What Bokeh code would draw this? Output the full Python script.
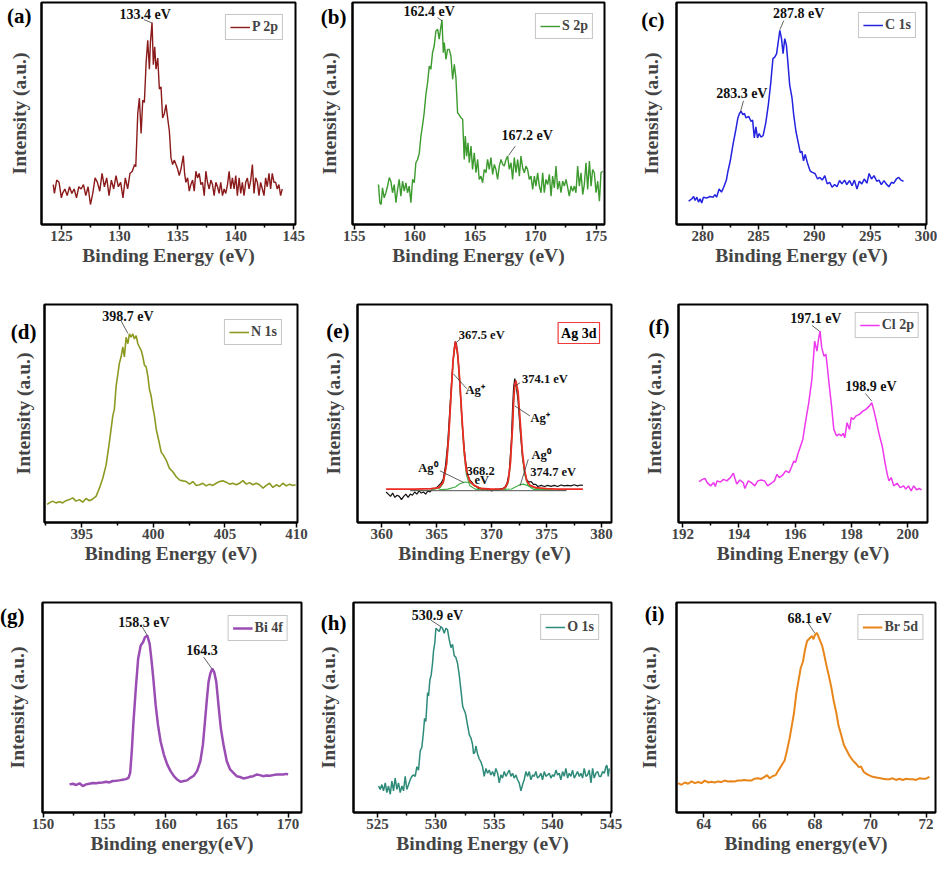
from bokeh.plotting import figure
from bokeh.models import Range1d, FixedTicker, Label
from bokeh.layouts import column, row
from bokeh.embed import file_html
from bokeh.resources import INLINE

SERIF = "Liberation Serif"

# ---------------- data (binding energy in eV, intensity in a.u.) ----------------
p2p_be = [124.3,124.4,124.6,124.8,125.0,125.1,125.3,125.5,125.7,125.9,126.1,126.3,126.5,126.7,126.9,127.1,127.3,127.5,127.7,127.9,
          128.1,128.3,128.5,128.7,128.9,129.1,129.3,129.5,129.7,129.9,130.1,130.3,130.5,130.7,130.9,131.1,131.3,131.4,131.57,131.71,
          131.86,132.0,132.14,132.29,132.43,132.57,132.66,132.8,132.91,133.03,133.14,133.29,133.43,133.57,133.71,133.86,134.0,134.14,134.29,134.43,
          134.57,134.71,134.86,135.0,135.14,135.29,135.49,135.6,135.71,135.86,136.0,136.14,136.29,136.43,136.57,136.71,136.86,137.0,137.14,137.29,
          137.43,137.57,137.71,137.86,138.0,138.14,138.29,138.43,138.57,138.71,138.86,139.0,139.14,139.29,139.43,139.57,139.71,139.86,140.0,140.14,
          140.29,140.43,140.57,140.71,140.86,141.0,141.14,141.29,141.43,141.57,141.71,141.86,142.0,142.14,142.29,142.43,142.57,142.71,142.86,143.0,
          143.14,143.29,143.43,143.57,143.71,143.86,144.0]
p2p_int = [18,14,20,19,12,14,16,13,17,14,16,12,17,16,18,13,17,9,14,21,
           19,15,23,17,21,13,20,16,22,17,19,12,21,16,23,24,27,26,50,57,
           41,56,55,73,83,70,82,91,72,80,70,75,61,62,48,50,54,48,42,30,
           27,29,27,25,22,25,31,23,19,21,15,18,20,15,24,21,23,18,19,13,
           24,19,16,20,18,13,19,17,14,19,13,16,14,18,24,16,21,16,22,13,
           21,14,19,13,19,21,16,20,27,14,21,19,13,19,16,13,21,17,23,16,
           23,19,19,16,18,13,16]

s2p_be = [157.01,157.12,157.23,157.34,157.48,157.62,157.76,157.90,158.03,158.17,158.31,158.45,158.59,158.72,158.86,159.0,159.14,159.28,159.41,159.55,
          159.69,159.83,159.97,160.10,160.24,160.38,160.52,160.66,160.79,160.93,161.07,161.21,161.34,161.48,161.62,161.76,161.90,162.03,162.12,162.26,
          162.37,162.45,162.59,162.72,162.86,163.0,163.14,163.28,163.41,163.55,163.83,163.97,164.10,164.19,164.30,164.41,164.52,164.66,164.79,164.93,
          165.07,165.21,165.34,165.48,165.62,165.76,165.90,166.03,166.17,166.31,166.45,166.59,166.72,166.86,167.0,167.14,167.28,167.41,167.55,167.69,
          167.83,167.97,168.10,168.24,168.38,168.52,168.66,168.79,168.93,169.07,169.21,169.34,169.48,169.62,169.76,169.90,170.03,170.17,170.31,170.45,
          170.59,170.72,170.86,171.0,171.14,171.28,171.41,171.55,171.69,171.83,171.97,172.10,172.24,172.38,172.52,172.66,172.79,172.93,173.07,173.21,
          173.34,173.48,173.62,173.76,173.90,174.03,174.17,174.31,174.45,174.59,174.72,174.86,175.0,175.14,175.28,175.41,175.55]
s2p_int = [18.0,9.8,9.0,16.5,12.0,14.3,17.3,21.1,19.5,14.3,18.0,9.8,15.8,20.3,12.8,19.5,15.0,18.8,14.3,17.3,
           9.8,20.3,18.8,27.8,29.3,32.0,39.8,45.0,50.4,58.6,63.9,71.4,69.9,77.4,80.5,87.2,88.0,83.5,87.2,92.2,
           77.4,82.0,74.4,78.9,78.9,75.9,65.4,72.2,66.2,50.4,48.1,47.4,29.3,39.8,30.8,36.8,27.8,35.3,24.8,32.3,
           23.3,29.3,20.3,21.8,18.8,24.8,23.3,29.3,24.8,30.1,22.6,27.1,24.8,20.3,26.3,29.3,27.1,26.3,29.3,30.8,
           24.8,27.8,20.3,30.1,23.3,29.3,21.8,30.8,25.6,23.3,26.3,24.8,20.3,21.8,15.8,21.8,17.3,23.3,17.3,14.3,
           23.3,14.3,20.3,18.0,22.6,12.8,21.8,16.5,26.3,15.8,19.5,14.3,19.5,17.3,20.3,16.5,12.8,17.3,15.0,17.3,
           14.3,26.3,17.3,23.3,13.5,18.0,27.8,15.8,28.6,17.3,24.8,23.3,14.3,19.5,10.5,23.3,24.0]

c1s_be = [278.74,279.03,279.18,279.32,279.47,279.62,279.76,279.91,280.06,280.35,280.65,280.94,281.09,281.24,281.47,281.68,281.88,282.12,282.26,282.47,
          282.71,282.94,283.15,283.29,283.44,283.59,283.74,283.88,284.12,284.32,284.47,284.62,284.76,284.91,285.06,285.21,285.41,285.65,285.88,286.09,
          286.29,286.47,286.62,286.76,286.91,287.06,287.2,287.35,287.5,287.65,287.79,288.0,288.15,288.35,288.53,288.74,288.88,289.03,289.18,289.41,
          289.62,289.82,290.06,290.29,290.5,290.71,290.94,291.15,291.38,291.59,291.82,292.03,292.26,292.47,292.71,292.91,293.15,293.38,293.59,293.82,
          294.03,294.26,294.47,294.71,294.91,295.12,295.35,295.59,295.79,296.0,296.24,296.44,296.68,296.91,297.12,297.35,297.56,297.76,297.99]
c1s_int = [10.5,11.6,12.6,10.8,12.3,10.1,11.6,9.7,12.3,11.9,12.6,12.3,13.5,12.3,16,14.6,16.8,20,24,28.7,
           36,42,48,50,51,49.5,50,48,48.7,46.5,47,39,44,39,41,39.4,40,45.8,54,63.6,
           74.7,75.5,77,82,87.4,83.7,77,83.7,80.7,71.8,62.9,57,49.5,42,37.6,32.4,33,28.7,31.6,27.2,
           24.2,23.5,23,20.5,21.2,20,22,18.3,19,16.8,18,17,19.8,18.3,20,18,19.8,17.5,20,16,
           19.5,18.3,20.5,18.6,23,20.5,22,19.5,20,18,19.8,18.3,17,19,18.6,20.5,21.2,20,19.5]

n1s_be = [392.58,392.74,392.97,393.2,393.44,393.67,393.9,394.14,394.37,394.6,394.84,395.07,395.3,395.54,395.77,396.0,396.24,396.47,396.7,396.93,
          397.17,397.28,397.4,397.63,397.75,397.87,397.98,398.1,398.22,398.33,398.45,398.57,398.68,398.8,398.92,399.03,399.15,399.27,399.38,399.5,
          399.62,399.73,399.85,399.97,400.08,400.2,400.38,400.55,400.71,400.9,401.13,401.36,401.6,401.83,402.06,402.3,402.53,402.76,403.0,403.23,
          403.46,403.69,403.93,404.16,404.39,404.63,404.86,405.09,405.33,405.56,405.79,406.02,406.26,406.49,406.72,406.96,407.19,407.42,407.66,407.89,
          408.12,408.35,408.59,408.82,409.05,409.29,409.52,409.75,409.94]
n1s_int = [8.3,9,9.8,9,9.5,9,10,10.5,11.3,9.8,10.5,9.3,11,10,10.8,12,15.8,20.3,26.3,36.8,
           48.9,52,62.4,73,76,80.5,76,85,82,86.5,85,86.5,84.2,85.7,82,80.5,79,76,72.2,71.4,
           67,61,58,52.6,48.9,42.9,37.6,32.3,30.8,28.6,24.8,23.3,21,19.5,19.1,18.8,17.6,18.8,17,17.3,
           18,16.8,17.6,17,18,18.8,19.1,18.5,17.6,18,17.3,18,19.2,17.6,18.3,17.3,18,17.3,15.8,17,
           18,16.1,17.3,16.5,18,16.8,17.6,17,17.3]

# Ag 3d: raw data, fitted envelope, components, background
ag_be = [360.4,360.6,360.8,361.0,361.2,361.4,361.6,361.8,362.0,362.2,362.4,362.6,362.8,363.0,363.2,363.4,363.6,363.8,364.0,364.2,
         364.4,364.6,364.8,365.0,365.2,365.4,365.6,365.8,366.0,366.2,366.4,366.6,366.7,366.8,367.0,367.2,367.4,367.6,367.8,368.0,
         368.2,368.4,368.6,368.8,369.0,369.2,369.4,369.6,369.8,370.0,370.2,370.4,370.6,370.8,371.0,371.2,371.4,371.6,371.8,371.9,
         372.0,372.1,372.2,372.4,372.6,372.8,373.0,373.2,373.4,373.6,373.8,374.0,374.2,374.5,374.8,375.1,375.4,375.7,376.0,376.3,
         376.6,376.9,377.2,377.5,377.8,378.1,378.3]
ag_int = [14,13,12,13.5,11.5,12.5,12,10.5,12,13,11.5,13,12.5,14,13,14.5,13.5,14,13,14.5,
          14,15.5,15.5,16,17,18,20,26,36,52,68,80,83,82,72,56,40,29,22,19.5,
          18.5,17,16.5,15.6,15.3,15,15.5,14.8,15.2,14.5,15,15.3,15,15.6,15.5,16.2,18,23,38,52,
          62,66,64,56,42,30,23,19.5,18.5,18.8,17.5,17.5,16.5,17,16.5,17,16.6,17,16.5,17.2,
          16.8,17,16.8,17.3,16.8,17.2,17]
ag_fit_be = [360.4,363.0,364.5,365.2,365.6,365.9,366.1,366.3,366.5,366.7,366.9,367.1,367.3,367.5,367.7,368.0,368.4,369.0,370.0,371.0,
             371.3,371.5,371.7,371.9,372.0,372.1,372.2,372.4,372.6,372.8,373.0,373.2,373.5,374.0,375.0,376.0,378.3]
ag_fit_int = [15.3,15.3,15.5,16,18.5,27,40,58,75,83,78,65,48,33,24,19,17,15.6,15.3,15.4,
              16.5,19,27,44,56,63,65,60,46,32,24,19,17,16,15.5,15.3,15.3]
agp1_be = [362.6,364.5,365.3,365.6,365.9,366.1,366.3,366.5,366.7,366.9,367.1,367.3,367.5,367.7,368.0,368.5,369.5,370.5]
agp1_int = [14.8,14.9,15.8,18,26,39,57,74,82,77,63,46,31,22,17,15.3,14.9,14.8]
agp2_be = [370.5,371.2,371.5,371.7,371.9,372.0,372.1,372.2,372.4,372.6,372.8,373.0,373.3,373.8,375.0,376.8]
agp2_int = [14.8,15.2,18,26,43,55,62,64,59,45,31,22,17,15.2,14.9,14.8]
ag01_be = [365.2,366.0,366.7,367.1,367.6,368.0,368.5,369.1,369.8]
ag01_int = [15.0,15.3,16.3,17.8,18.6,18.2,16.8,15.6,15.1]
ag02_be = [370.8,371.8,372.3,372.6,372.9,373.3,373.9,374.6,375.6]
ag02_int = [15.0,15.4,16.6,17.4,17.6,16.9,15.8,15.2,15.0]
ag_bg_be = [362.6,376.8]
ag_bg_int = [14.6,14.6]

cl2p_be = [192.58,192.70,192.79,192.87,192.99,193.10,193.16,193.22,193.34,193.45,193.57,193.69,193.80,193.92,194.03,194.15,194.21,194.33,194.44,194.56,
           194.67,194.79,194.91,195.02,195.14,195.26,195.35,195.43,195.55,195.66,195.78,195.86,195.95,196.01,196.09,196.19,196.27,196.36,196.48,196.59,
           196.69,196.77,196.83,196.88,196.94,197.02,197.09,197.15,197.21,197.29,197.37,197.47,197.55,197.64,197.70,197.76,197.84,197.93,197.99,198.07,
           198.16,198.28,198.40,198.51,198.63,198.72,198.80,198.88,198.98,199.09,199.19,199.27,199.33,199.41,199.50,199.62,199.73,199.85,199.93,200.02,
           200.12,200.21,200.31,200.40,200.49]
cl2p_int = [18.8,19.8,20.2,18.3,16.8,18.3,16.5,19.1,18.6,19.8,19.1,20.6,22.6,17.6,19.5,18.3,15.6,19.1,18.3,16.8,
            19.1,19.5,19.1,16.8,17.9,19.1,22.1,20.6,21.7,23.7,22.9,25.2,28.2,27.5,31.3,35.1,38.2,45.8,55,65.6,
            83.2,78.6,84.3,87.8,80.2,76.3,77.1,70.2,62.6,53.4,42.7,39.7,40.5,39.7,40.9,38.9,45.8,42.7,48.1,47.3,
            48.9,49.6,51.1,51.9,53.4,54.9,51.1,46.6,40.5,35.1,27.5,22.1,19.1,20.6,16.8,18,16,16.8,15.3,16.8,
            14.5,16.8,15.0,15.6,15.0]

bi4f_be = [152.16,152.43,152.70,152.97,153.24,153.51,153.78,154.05,154.32,154.59,154.86,155.14,155.41,155.68,155.95,156.22,156.49,156.76,156.97,157.11,
           157.24,157.38,157.57,157.76,157.97,158.16,158.32,158.51,158.70,158.84,159.0,159.19,159.38,159.59,159.86,160.14,160.41,160.68,160.95,161.22,
           161.49,161.76,162.03,162.30,162.57,162.84,163.05,163.24,163.38,163.51,163.65,163.81,163.97,164.14,164.32,164.51,164.73,165.0,165.27,165.54,
           165.81,166.08,166.35,166.62,166.89,167.16,167.43,167.70,167.97,168.24,168.51,168.78,169.05,169.32,169.59,169.86,170.0]
bi4f_int = [13.4,13.7,13.1,13.9,12.6,13.4,13.7,14.0,13.9,14.2,14.3,14.6,14.3,15.0,15.1,15.3,15.6,15.9,16.5,18.9,
            29.1,43.3,59.1,73.2,79.5,81.1,83.5,84.3,80.3,73.2,63.8,51.2,41.7,33.9,27.6,22.8,19.7,17.3,15.7,14.6,
            15.0,15.3,16.5,17.5,19.7,24.4,32.3,44.9,54.3,62.2,66.1,68.5,66.9,62.2,51.2,40.2,32.3,24.4,20.5,18.9,
            17.3,16.9,16.2,16.5,17.0,17.3,18.1,17.8,17.3,17.6,17.5,17.8,18.1,18.1,18.1,18.4,18.1]

o1s_be = [525.09,525.23,525.37,525.51,525.66,525.80,525.94,526.09,526.23,526.37,526.51,526.66,526.80,526.94,527.09,527.23,527.37,527.51,527.66,527.80,
          527.94,528.09,528.23,528.37,528.51,528.66,528.80,528.94,529.03,529.14,529.29,529.37,529.49,529.60,529.71,529.80,529.91,530.00,530.14,530.29,
          530.43,530.57,530.71,530.86,531.00,531.14,531.29,531.43,531.57,531.71,531.86,532.00,532.14,532.29,532.37,532.49,532.57,532.71,532.86,533.00,
          533.14,533.23,533.34,533.43,533.57,533.71,533.86,534.00,534.14,534.29,534.43,534.57,534.71,534.86,535.00,535.14,535.29,535.43,535.57,535.71,
          535.86,536.00,536.14,536.29,536.43,536.57,536.71,536.86,537.00,537.14,537.29,537.43,537.57,537.71,537.86,538.00,538.14,538.29,538.43,538.57,
          538.71,538.86,539.00,539.14,539.29,539.43,539.57,539.71,539.86,540.00,540.14,540.29,540.43,540.57,540.71,540.86,541.00,541.14,541.29,541.43,
          541.57,541.71,541.86,542.00,542.14,542.29,542.43,542.57,542.71,542.86,543.00,543.14,543.29,543.43,543.57,543.71,543.86,544.00,544.14,544.29,
          544.43,544.57,544.66,544.77,544.86]
o1s_int = [12.6,11.0,13.3,10.3,14.1,9.5,12.6,8.7,14.9,10.3,16.4,11.0,14.1,9.5,12.6,10.3,17.2,11.0,13.3,15.6,
           17.2,17.9,17.2,21.8,20.2,29.4,31.0,38.7,44.8,43.3,57.1,55.5,63.2,65.5,70.9,77.0,80.8,87.7,87.0,86.2,
           88.5,87.7,85.4,87.7,87.0,82.4,78.5,80.1,74.7,73.9,70.9,65.5,58.6,50.9,49.4,47.9,46.3,41.7,37.1,35.6,
           32.5,27.9,28.7,31.7,27.9,25.6,24.1,21.8,17.2,21.0,18.7,20.2,17.9,19.5,17.2,21.0,18.7,14.1,17.9,16.4,
           19.5,17.2,18.7,20.2,17.2,18.7,16.4,17.9,15.6,14.1,10.3,13.3,15.6,19.5,17.2,19.5,15.6,17.9,17.2,19.5,
           16.4,17.2,18.7,15.6,19.5,17.2,17.9,18.7,16.4,17.9,17.2,20.2,17.9,18.7,15.6,19.5,17.2,21.0,16.4,18.7,
           17.2,20.2,16.4,17.9,19.5,17.2,18.7,16.4,21.0,17.2,17.9,20.2,14.1,21.0,16.4,18.7,19.5,17.2,17.2,19.5,
           18.7,21.8,22.5,17.2,21.0]

br5d_be = [63.08,63.2,63.32,63.44,63.56,63.68,63.8,63.92,64.04,64.16,64.28,64.4,64.51,64.63,64.75,64.87,64.99,65.11,65.23,65.35,
           65.47,65.59,65.71,65.83,65.95,66.07,66.19,66.28,66.37,66.49,66.59,66.65,66.73,66.83,66.91,66.99,67.09,67.17,67.25,67.33,
           67.41,67.49,67.57,67.65,67.72,67.78,67.84,67.9,67.95,68.01,68.07,68.12,68.19,68.26,68.34,68.41,68.49,68.59,68.67,68.77,
           68.85,68.95,69.04,69.13,69.25,69.37,69.49,69.58,69.66,69.76,69.87,69.96,70.08,70.2,70.32,70.44,70.56,70.68,70.8,70.92,
           71.04,71.16,71.28,71.4,71.52,71.64,71.76,71.88,72.0,72.12]
br5d_int = [14.0,13.2,14.3,13.7,14.8,14.0,14.5,14.0,15.2,14.3,14.6,14.3,14.8,14.5,15.2,14.8,14.9,14.8,15.2,15.2,
            15.5,15.2,15.2,16.1,16.3,16.0,17.0,17.8,16.3,17.4,17.8,19.3,20.9,23.1,24.7,29.2,35.3,41.4,47.5,56.6,
            62.7,68.8,71.8,77.9,81.7,82.5,83.3,84.0,82.5,84.8,85.5,84.0,81.7,79.5,74.9,70.3,65.8,59.7,53.6,47.5,
            41.4,36.8,32.3,30.0,26.9,24.7,23.1,21.6,21.9,19.3,18.3,17.7,17.0,16.7,16.4,16.1,15.8,15.8,16.3,15.5,
            16.1,15.5,16.1,15.8,15.8,15.5,16.3,16.1,16.1,17.0]

# tick values
ticks_a = [125, 130, 135, 140, 145];  minor_a = [127.5, 132.5, 137.5, 142.5]
ticks_b = [155, 160, 165, 170, 175];  minor_b = [157.5, 162.5, 167.5, 172.5]
ticks_c = [280, 285, 290, 295, 300];  minor_c = [282.5, 287.5, 292.5, 297.5]
ticks_d = [395, 400, 405, 410];       minor_d = [392.5, 397.5, 402.5, 407.5]
ticks_e = [360, 365, 370, 375, 380];  minor_e = [362.5, 367.5, 372.5, 377.5]
ticks_f = [192, 194, 196, 198, 200];  minor_f = [193, 195, 197, 199]
ticks_g = [150, 155, 160, 165, 170];  minor_g = [152.5, 157.5, 162.5, 167.5]
ticks_h = [525, 530, 535, 540, 545];  minor_h = [527.5, 532.5, 537.5, 542.5]
ticks_i = [64, 66, 68, 70, 72];       minor_i = [65, 67, 69, 71]


def seg(be, it):
    n = min(len(be), len(it))
    return be[:n], it[:n]


def make_panel(cfg):
    w, h, bl, br, bt, bb = cfg["geom"]
    fh = h - bt - bb
    p = figure(width=w, height=h, x_range=Range1d(*cfg["xr"]), y_range=Range1d(0, 100),
               output_backend="svg", toolbar_location=None,
               min_border_left=bl, min_border_right=br, min_border_top=bt, min_border_bottom=bb,
               background_fill_color="white", border_fill_color="white")
    p.xgrid.visible = False
    p.ygrid.visible = False
    p.outline_line_color = "black"
    p.outline_line_width = 2
    p.outline_line_alpha = 1

    xa = p.xaxis[0]
    xa.ticker = FixedTicker(ticks=cfg["ticks"], minor_ticks=cfg["minor"])
    xa.axis_label = cfg["xlabel"]
    xa.axis_label_text_font = SERIF
    xa.axis_label_text_font_style = "bold"
    xa.axis_label_text_font_size = "19.5px"
    xa.axis_label_standoff = cfg.get("xls", 1)
    xa.major_label_text_font = SERIF
    xa.major_label_text_font_style = "bold"
    xa.major_label_text_font_size = "15px"
    xa.major_label_standoff = 1
    xa.axis_line_width = 2
    xa.major_tick_line_width = 1.5
    xa.minor_tick_line_width = 1.5
    xa.major_tick_out = 5
    xa.major_tick_in = 0
    xa.minor_tick_out = 3
    xa.minor_tick_in = 0

    # left axis: carries the panel letter as its single tick label and the intensity title
    letter_y = 100.0 * (1.0 - cfg["letter_c"] / fh)
    ya = p.yaxis[0]
    ya.ticker = FixedTicker(ticks=[letter_y], minor_ticks=[])
    ya.major_label_overrides = {letter_y: cfg["letter"]}
    ya.major_label_text_font = SERIF
    ya.major_label_text_font_style = "bold"
    ya.major_label_text_font_size = "21px"
    ya.major_label_text_color = "black"
    ya.major_label_standoff = cfg["letter_gap"]
    ya.major_tick_out = 0
    ya.major_tick_in = 0
    ya.major_tick_line_color = None
    ya.axis_label = "Intensity (a.u.)"
    ya.axis_label_text_font = SERIF
    ya.axis_label_text_font_style = "bold"
    ya.axis_label_text_font_size = "19.5px"
    ya.axis_label_standoff = cfg["yls"]
    ya.axis_line_width = 2

    for s in cfg["series"]:
        be, it = seg(s["x"], s["y"])
        kw = dict(line_color=s["color"], line_width=s["width"])
        if s.get("legend"):
            kw["legend_label"] = s["legend"]
        p.line(be, it, **kw)

    if cfg.get("legend"):
        lg = p.legend[0]
        lg.location = "top_right"
        lg.margin = cfg.get("leg_margin", 12)
        lg.padding = 4
        lg.spacing = 0
        lg.glyph_width = 20
        lg.glyph_height = 14
        lg.label_height = 14
        lg.label_standoff = 2
        lg.label_text_font = SERIF
        lg.label_text_font_style = "bold"
        lg.label_text_font_size = "14px"
        lg.border_line_color = "#8c8c8c"
        lg.border_line_width = 1
        lg.background_fill_alpha = 1

    if cfg["leaders"]:
        x0 = [l[0] for l in cfg["leaders"]]
        y0 = [l[1] for l in cfg["leaders"]]
        x1 = [l[2] for l in cfg["leaders"]]
        y1 = [l[3] for l in cfg["leaders"]]
        p.segment(x0=x0, y0=y0, x1=x1, y1=y1, line_color="#3a3a3a", line_width=0.8)

    for txt, tx, ty in cfg["notes"]:
        p.add_layout(Label(x=tx, y=ty, text=txt, text_align="center", text_baseline="middle",
                           text_font=SERIF, text_font_style="bold",
                           text_font_size=cfg.get("note_size", "14px"), text_color="#111111"))

    if cfg.get("boxlabel"):
        p.add_layout(Label(x=cfg["xr"][1], y=100, x_offset=-12, y_offset=-18, text=cfg["boxlabel"],
                           text_align="right", text_baseline="top", text_font=SERIF,
                           text_font_style="bold", text_font_size="14px", text_color="black",
                           border_line_color="#ee3a3a", border_line_width=1.2,
                           background_fill_color="white", padding=3))
    return p


cfgs = [
    dict(letter="(a)", geom=(312, 289, 41, 17, 2, 61), xr=(123.29, 145.14), ticks=ticks_a, minor=minor_a,
         xlabel="Binding Energy (eV)", letter_c=14, letter_gap=10, yls=-26,
         series=[dict(x=p2p_be, y=p2p_int, color="#8b1a1a", width=1.4, legend="P 2p")], legend=True,
         leg_margin=12,
         notes=[("133.4 eV", 132.2, 94.5)], leaders=[(132.1, 92.3, 132.8, 90.8)]),
    dict(letter="(b)", geom=(312, 289, 40, 20, 2, 65), xr=(154.86, 175.7), ticks=ticks_b, minor=minor_b,
         xlabel="Binding Energy (eV)", letter_c=14, letter_gap=6, yls=-22,
         series=[dict(x=s2p_be, y=s2p_int, color="#3c9a2e", width=1.4, legend="S 2p")], legend=True,
         leg_margin=11,
         notes=[("162.4 eV", 161.2, 96.0), ("167.2 eV", 169.3, 40.0)],
         leaders=[(161.9, 93.2, 162.26, 91.7), (168.32, 35.3, 167.77, 31.1)]),
    dict(letter="(c)", geom=(313, 289, 52, 11, 2, 62), xr=(277.65, 300.05), ticks=ticks_c, minor=minor_c,
         xlabel="Binding Energy (eV)", letter_c=18, letter_gap=12, yls=-24,
         series=[dict(x=c1s_be, y=c1s_int, color="#2323e0", width=1.5, legend="C 1s")], legend=True,
         leg_margin=10,
         notes=[("287.8 eV", 288.6, 95.2), ("283.3 eV", 283.5, 59.0)],
         leaders=[(287.26, 91.8, 286.91, 87.8), (283.65, 55.7, 283.38, 50.7)]),
    dict(letter="(d)", geom=(312, 294, 44, 15, 13, 59), xr=(392.4, 410.07), ticks=ticks_d, minor=minor_d,
         xlabel="Binding Energy (eV)", letter_c=28, letter_gap=8, yls=-26,
         series=[dict(x=n1s_be, y=n1s_int, color="#8c9a22", width=1.6, legend="N 1s")], legend=True,
         leg_margin=15,
         notes=[("398.7 eV", 398.22, 94.7)], leaders=[(397.75, 92.5, 398.22, 86.8)]),
    dict(letter="(e)", geom=(312, 294, 45, 13, 15, 61), xr=(357.8, 380.9), ticks=ticks_e, minor=minor_e,
         xlabel="Binding Energy (eV)", letter_c=26, letter_gap=8, yls=-21, note_size="12.5px",
         series=[dict(x=ag_be, y=ag_int, color="#111111", width=1.2),
                 dict(x=agp1_be, y=agp1_int, color="#3cb043", width=1.1),
                 dict(x=agp2_be, y=agp2_int, color="#3cb043", width=1.1),
                 dict(x=ag01_be, y=ag01_int, color="#3cb043", width=1.1),
                 dict(x=ag02_be, y=ag02_int, color="#3cb043", width=1.1),
                 dict(x=ag_bg_be, y=ag_bg_int, color="#555555", width=1.0),
                 dict(x=ag_fit_be, y=ag_fit_int, color="#ee2a24", width=1.8)],
         legend=False, boxlabel="Ag 3d",
         notes=[("367.5 eV", 369.1, 85.8), ("Ag\u207a", 368.5, 61.0), ("374.1 eV", 374.85, 66.0),
                ("Ag\u207a", 374.4, 48.0), ("Ag\u2070", 364.2, 25.0), ("368.2", 369.0, 23.7),
                ("eV", 369.1, 19.5), ("Ag\u2070", 374.5, 31.0), ("374.7 eV", 375.6, 23.2)],
         leaders=[(367.18, 84.3, 366.82, 82.7), (366.52, 68.2, 367.73, 61.4), (372.58, 64.1, 372.12, 62.6),
                  (372.12, 53.4, 373.48, 48.9), (365.3, 23.7, 367.48, 18.3), (373.33, 29.0, 372.58, 16.8)]),
    dict(letter="(f)", geom=(313, 294, 54, 10, 15, 61), xr=(191.85, 200.7), ticks=ticks_f, minor=minor_f,
         xlabel="Binding Energy (eV)", letter_c=22.5, letter_gap=9, yls=-19,
         series=[dict(x=cl2p_be, y=cl2p_int, color="#ee38ee", width=1.5, legend="Cl 2p")], legend=True,
         leg_margin=8,
         notes=[("197.1 eV", 196.73, 93.4), ("198.9 eV", 198.69, 62.3)],
         leaders=[(196.59, 90.4, 196.86, 87.8), (198.49, 59.2, 198.72, 55.7)]),
    dict(letter="(g)", geom=(312, 276, 42, 11, 19, 47), xr=(149.95, 171.1), ticks=ticks_g, minor=minor_g,
         xlabel="Binding energy(eV)", letter_c=13, letter_gap=18, yls=-31,
         series=[dict(x=bi4f_be, y=bi4f_int, color="#9a4db3", width=2.5, legend="Bi 4f")], legend=True,
         leg_margin=13,
         notes=[("158.3 eV", 158.24, 90.5), ("164.3", 162.97, 77.2)],
         leaders=[(158.11, 88.2, 158.51, 84.3), (163.11, 74.0, 163.78, 68.5)]),
    dict(letter="(h)", geom=(312, 276, 41, 13, 16, 47), xr=(522.94, 545.05), ticks=ticks_h, minor=minor_h,
         xlabel="Binding Energy (eV)", letter_c=21, letter_gap=7, yls=-21,
         series=[dict(x=o1s_be, y=o1s_int, color="#2e8b7a", width=1.5, legend="O 1s")], legend=True,
         leg_margin=12,
         notes=[("530.9 eV", 530.14, 93.9)], leaders=[(529.57, 91.6, 530.43, 88.5)]),
    dict(letter="(i)", geom=(313, 276, 52, 2, 14, 47), xr=(63.02, 72.34), ticks=ticks_i, minor=minor_i,
         xlabel="Binding energy(eV)", letter_c=12, letter_gap=12, yls=-18,
         series=[dict(x=br5d_be, y=br5d_int, color="#e8861a", width=2.0, legend="Br 5d")], legend=True,
         leg_margin=12,
         notes=[("68.1 eV", 67.81, 92.4)], leaders=[(67.75, 90.4, 67.99, 85.5)]),
]

figs = [make_panel(c) for c in cfgs]
layout = column(row(*figs[0:3]), row(*figs[3:6]), row(*figs[6:9]))

open("out.html", "w").write(file_html(layout, INLINE, title="XPS spectra"))
